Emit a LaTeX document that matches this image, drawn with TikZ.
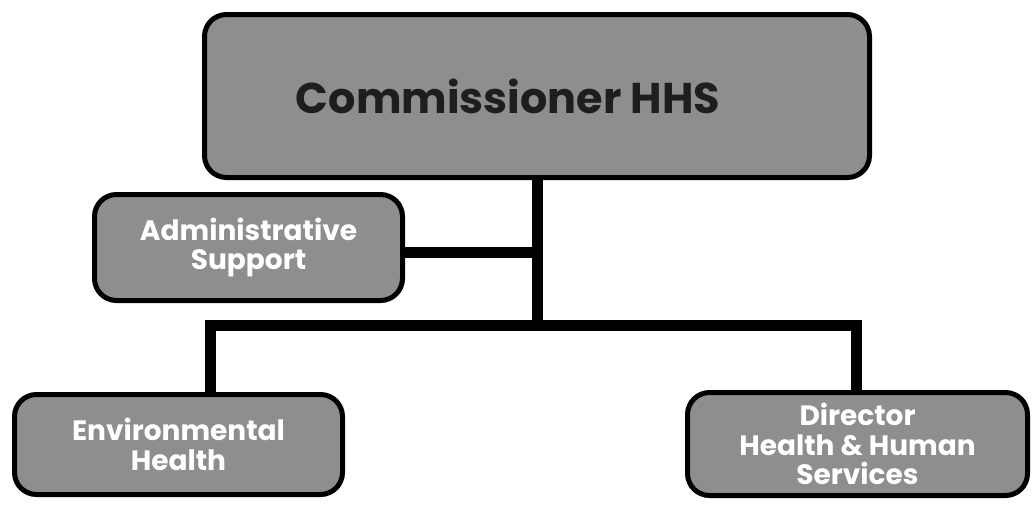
\documentclass[tikz,border=0pt]{standalone}
\usepackage{fontspec}
\setmainfont{Poppins}
\usetikzlibrary{backgrounds}
\definecolor{boxgray}{HTML}{8E8E8E}
\definecolor{darktext}{HTML}{1E1E1E}
\tikzset{
  orgbox/.style={draw=black, line width=5pt, fill=boxgray, rounded corners=22pt,
    align=center, inner sep=0pt, font=\bfseries\fontsize{28}{29.5}\selectfont, text=white},
  conn/.style={draw=black, line width=11pt, line join=miter, line cap=rect},
}
\begin{document}
\begin{tikzpicture}[x=1pt,y=-1pt]
\useasboundingbox (0,0) rectangle (1036,507);
\node[orgbox, minimum width=665pt, minimum height=163pt, text=darktext,
  font=\bfseries\fontsize{43}{48}\selectfont] (comm) at (537,96) {\hspace*{-58pt}Commissioner HHS};
\node[orgbox, minimum width=308pt, minimum height=106pt] (admin) at (248.5,247.5) {Administrative\\Support};
\node[orgbox, minimum width=328pt, minimum height=100pt] (env) at (178.5,444.5) {Environmental\\Health};
\node[orgbox, minimum width=340pt, minimum height=103pt] (dir) at (857.5,444) {Director\\Health \& Human\\Services};
\coordinate (j1) at (537,252);
\coordinate (j2) at (537,325);
\coordinate (bl) at (210,325);
\coordinate (br) at (856,325);
\begin{scope}[on background layer]
\draw[conn] (comm.south) -- (j2);
\draw[conn] (admin.east |- j1) -- (j1);
\draw[conn] (bl |- env.north) -- (bl) -- (br) -- (br |- dir.north);
\end{scope}
\end{tikzpicture}
\end{document}
